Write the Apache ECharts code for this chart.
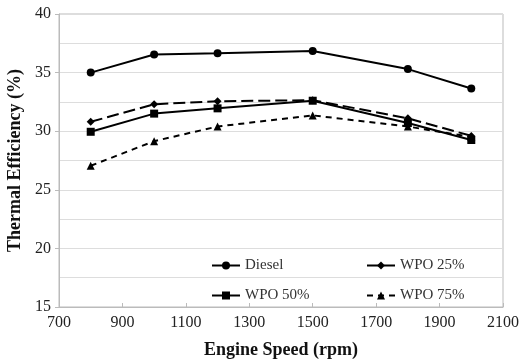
<!DOCTYPE html>
<html><head><meta charset="utf-8">
<script src="https://cdn.jsdelivr.net/npm/echarts@6/dist/echarts.min.js"></script>
<style>html,body{margin:0;padding:0;background:#fff}#c{width:530px;height:361px}</style>
</head><body><div id="c"></div>
<script>
const speeds = [800, 1000, 1200, 1500, 1800, 2000];
const diesel = [35.0, 36.55, 36.65, 36.85, 35.3, 33.65];
const wpo25 = [30.8, 32.3, 32.55, 32.65, 31.1, 29.6];
const wpo50 = [29.95, 31.5, 31.95, 32.6, 30.7, 29.25];
const wpo75 = [27.05, 29.15, 30.4, 31.35, 30.4, 29.5];
const xTitle = 'Engine Speed (rpm)';
const yTitle = 'Thermal Efficiency (%)';

const font = 'Liberation Serif';
const pairs = a => speeds.map((s, i) => [s, a[i]]);
function ser(name, data, symbol, type, size) {
  return {
    name, type: 'line', data: pairs(data), symbol, symbolSize: size,
    lineStyle: { color: '#000', width: 2, type },
    itemStyle: { color: '#000' }
  };
}
const legendBase = {
  itemWidth: 28, itemHeight: 10, itemGap: 4,
  textStyle: { fontFamily: font, fontSize: 15, color: '#333' }
};
const chart = echarts.init(document.getElementById('c'));
chart.setOption({
  animation: false,
  grid: { left: 59, right: 27, top: 14, bottom: 54, show: true, borderColor: '#bbb', borderWidth: 1,
          containLabel: false, outerBoundsMode: 'none' },
  xAxis: {
    type: 'value', min: 700, max: 2100, interval: 200,
    axisLine: { lineStyle: { color: '#bbb' } },
    axisTick: { inside: true, length: 4, lineStyle: { color: '#bbb' } },
    axisLabel: { fontFamily: font, fontSize: 16, color: '#222', margin: 8, formatter: v => String(v) },
    splitLine: { show: false },
    name: xTitle, nameLocation: 'middle', nameGap: 34,
    nameTextStyle: { fontFamily: font, fontSize: 18, fontWeight: 'bold', color: '#111' }
  },
  yAxis: {
    type: 'value', min: 15, max: 40, interval: 5,
    axisLine: { show: true, lineStyle: { color: '#bbb' } },
    axisTick: { show: true, length: 4, lineStyle: { color: '#bbb' } },
    axisLabel: { fontFamily: font, fontSize: 16, color: '#222', margin: 8 },
    splitLine: { show: true, lineStyle: { color: '#ddd', width: 1 } },
    minorTick: { show: false, splitNumber: 2 },
    minorSplitLine: { show: true, lineStyle: { color: '#ddd', width: 1 } },
    name: yTitle, nameLocation: 'middle', nameGap: 34,
    nameTextStyle: { fontFamily: font, fontSize: 18, fontWeight: 'bold', color: '#111' }
  },
  legend: [
    Object.assign({ data: ['Diesel'], left: 206, top: 253 }, legendBase),
    Object.assign({ data: ['WPO 25%'], left: 361, top: 253 }, legendBase),
    Object.assign({ data: ['WPO 50%'], left: 206, top: 283 }, legendBase),
    Object.assign({ data: ['WPO 75%'], left: 361, top: 283 }, legendBase)
  ],
  series: [
    ser('Diesel', diesel, 'circle', 'solid', 8),
    ser('WPO 25%', wpo25, 'diamond', [12, 5], 8),
    ser('WPO 50%', wpo50, 'rect', 'solid', 8),
    ser('WPO 75%', wpo75, 'triangle', [6, 5], 8)
  ]
});
</script></body></html>
